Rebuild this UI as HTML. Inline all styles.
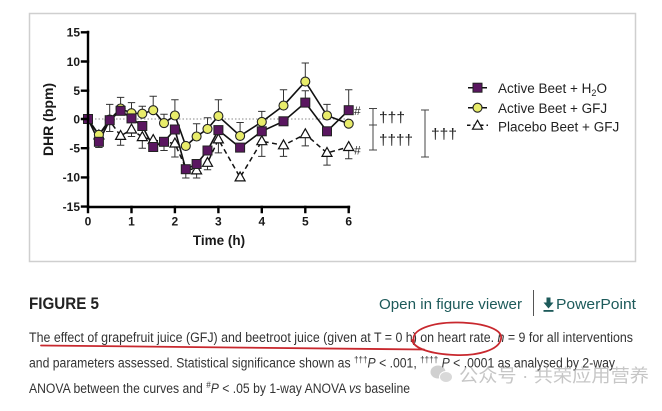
<!DOCTYPE html>
<html><head><meta charset="utf-8"><style>
html,body{margin:0;padding:0;background:#fff;}
body{width:662px;height:411px;overflow:hidden;}
svg{display:block;}
</style></head><body>
<svg width="662" height="411" viewBox="0 0 662 411" xmlns="http://www.w3.org/2000/svg">
<rect x="0" y="0" width="662" height="411" fill="#fff"/>
<rect x="29.5" y="13.5" width="606" height="248" fill="#fff" stroke="#cfcfcf" stroke-width="1.5"/>

<!-- zero dotted line -->
<line x1="88" y1="119" x2="349" y2="119" stroke="#888" stroke-width="1" stroke-dasharray="1.5 2"/>

<!-- error bars -->
<g stroke="#333" stroke-width="1" fill="none">
<path d="
M109.7 119.6V104.4M106 104.4h7.4
M120.6 108.5V97.4M116.9 97.4h7.4
M131.5 113.2V102.6M127.8 102.6h7.4
M142.3 113.7V106.2M138.6 106.2h7.4
M153.2 110.2V96.2M149.5 96.2h7.4
M164 123.1V114.3M160.3 114.3h7.4
M174.9 115.5V99.7M171.2 99.7h7.4
M196.6 136.5V123.7M192.9 123.7h7.4
M207.5 128.9V117.8M203.8 117.8h7.4
M218.4 116.1V99.7M214.7 99.7h7.4
M240.1 135.9V122.5M236.4 122.5h7.4
M261.8 121.9V111.4M258.1 111.4h7.4
M283.5 105.6V89.8M279.8 89.8h7.4
M305.3 81.6V63M301.6 63h7.4
M327 115.5V104.4M323.3 104.4h7.4
M348.7 110.2V89.8M345 89.8h7.4
M305.3 102.6V90.7M301.6 90.7h7.4
M98.9 141.8V147.5M95.2 147.5h7.4
M109.7 120.2V131.5M106 131.5h7.4
M153.2 147V151M149.5 151h7.4
M164 141.8V150.5M160.3 150.5h7.4
M185.8 169.2V178M182.1 178h7.4
M196.6 164V178M192.9 178h7.4
M120.6 135.9V145.3M116.9 145.3h7.4
M131.5 129.5V136.5M127.8 136.5h7.4
M142.3 137.1V148.2M138.6 148.2h7.4
M174.9 143.5V157M171.2 157h7.4
M207.5 162.8V169.8M203.8 169.8h7.4
M218.4 139.4V152.9M214.7 152.9h7.4
M261.8 141.2V156.4M258.1 156.4h7.4
M283.5 145.3V156.4M279.8 156.4h7.4
M305.3 134.2V145.9M301.6 145.9h7.4
M327 152.9V165.1M323.3 165.1h7.4
M348.7 147V158.7M345 158.7h7.4
"/>
</g>

<!-- series lines -->
<polyline fill="none" stroke="#111" stroke-width="1.5" stroke-dasharray="5 3.5" points="88,119 98.9,135.4 109.7,120.8 120.6,135.9 131.5,129.5 142.3,137.1 153.2,140 164,141.8 174.9,143.5 185.8,168.1 196.6,170.4 207.5,162.8 218.4,139.4 240.1,177.4 261.8,141.2 283.5,145.3 305.3,134.2 327,152.9 348.7,147"/>
<polyline fill="none" stroke="#111" stroke-width="1.6" points="88,119 98.9,141.8 109.7,120.2 120.6,110.8 131.5,118.4 142.3,126 153.2,147 164,141.8 174.9,129.5 185.8,169.2 196.6,164 207.5,150.5 218.4,130.1 240.1,147.6 261.8,131.3 283.5,121.3 305.3,102.6 327,131.3 348.7,110.2"/>
<polyline fill="none" stroke="#111" stroke-width="1.6" points="88,119 98.9,134.8 109.7,119.6 120.6,108.5 131.5,113.2 142.3,113.7 153.2,110.2 164,123.1 174.9,115.5 185.8,145.9 196.6,136.5 207.5,128.9 218.4,116.1 240.1,135.9 261.8,121.9 283.5,105.6 305.3,81.6 327,115.5 348.7,123.7"/>

<!-- triangle markers -->
<g fill="#fff" stroke="#111" stroke-width="1.2">
<path d="M98.9 130l5 8.9h-10z"/>
<path d="M120.6 130.5l5 8.9h-10z"/>
<path d="M131.5 124.1l5 8.9h-10z"/>
<path d="M142.3 131.7l5 8.9h-10z"/>
<path d="M153.2 134.6l5 8.9h-10z"/>
<path d="M174.9 138.1l5 8.9h-10z"/>
<path d="M196.6 165l5 8.9h-10z"/>
<path d="M207.5 157.4l5 8.9h-10z"/>
<path d="M218.4 134l5 8.9h-10z"/>
<path d="M240.1 172l5 8.9h-10z"/>
<path d="M261.8 135.8l5 8.9h-10z"/>
<path d="M283.5 139.9l5 8.9h-10z"/>
<path d="M305.3 128.8l5 8.9h-10z"/>
<path d="M327 147.5l5 8.9h-10z"/>
<path d="M348.7 141.6l5 8.9h-10z"/>
</g>

<!-- circle markers -->
<g fill="#e8ec6a" stroke="#222" stroke-width="1.1">
<circle cx="98.9" cy="134.8" r="4.5"/>
<circle cx="109.7" cy="119.6" r="4.5"/>
<circle cx="120.6" cy="108.5" r="4.5"/>
<circle cx="131.5" cy="113.2" r="4.5"/>
<circle cx="142.3" cy="113.7" r="4.5"/>
<circle cx="153.2" cy="110.2" r="4.5"/>
<circle cx="164" cy="123.1" r="4.5"/>
<circle cx="174.9" cy="115.5" r="4.5"/>
<circle cx="185.8" cy="145.9" r="4.5"/>
<circle cx="196.6" cy="136.5" r="4.5"/>
<circle cx="207.5" cy="128.9" r="4.5"/>
<circle cx="218.4" cy="116.1" r="4.5"/>
<circle cx="240.1" cy="135.9" r="4.5"/>
<circle cx="261.8" cy="121.9" r="4.5"/>
<circle cx="283.5" cy="105.6" r="4.5"/>
<circle cx="305.3" cy="81.6" r="4.5"/>
<circle cx="327" cy="115.5" r="4.5"/>
<circle cx="348.7" cy="123.7" r="4.5"/>
</g>

<!-- square markers -->
<g fill="#5a1660" stroke="#222" stroke-width="1">
<rect x="83.5" y="114.5" width="9" height="9"/>
<rect x="94.4" y="137.3" width="9" height="9"/>
<rect x="105.2" y="115.7" width="9" height="9"/>
<rect x="116.1" y="106.3" width="9" height="9"/>
<rect x="127" y="113.9" width="9" height="9"/>
<rect x="137.8" y="121.5" width="9" height="9"/>
<rect x="148.7" y="142.5" width="9" height="9"/>
<rect x="159.5" y="137.3" width="9" height="9"/>
<rect x="170.4" y="125" width="9" height="9"/>
<rect x="181.3" y="164.7" width="9" height="9"/>
<rect x="192.1" y="159.5" width="9" height="9"/>
<rect x="203" y="146" width="9" height="9"/>
<rect x="213.9" y="125.6" width="9" height="9"/>
<rect x="235.6" y="143.1" width="9" height="9"/>
<rect x="257.3" y="126.8" width="9" height="9"/>
<rect x="279" y="116.8" width="9" height="9"/>
<rect x="300.8" y="98.1" width="9" height="9"/>
<rect x="322.5" y="126.8" width="9" height="9"/>
<rect x="344.2" y="105.7" width="9" height="9"/>
</g>

<!-- axes -->
<g stroke="#000" stroke-width="2.4" fill="none" stroke-linecap="square">
<path d="M88 32V207H349"/>
<path d="M82 32.3H88M82 61.5H88M82 90.7H88M82 119H88M82 148.2H88M82 177.4H88M82 206.6H88"/>
<path d="M88 207v5M131.5 207v5M174.9 207v5M218.4 207v5M261.8 207v5M305.3 207v5M348.7 207v5"/>
</g>
<g font-family="Liberation Sans, Arial, sans-serif" font-weight="bold" font-size="12" fill="#1a1a1a" text-anchor="end">
<text x="80" y="36.6">15</text>
<text x="80" y="65.8">10</text>
<text x="80" y="95">5</text>
<text x="80" y="123.3">0</text>
<text x="80" y="152.5">-5</text>
<text x="80" y="181.7">-10</text>
<text x="80" y="210.9">-15</text>
</g>
<g font-family="Liberation Sans, Arial, sans-serif" font-weight="bold" font-size="12" fill="#1a1a1a" text-anchor="middle">
<text x="88" y="225.5">0</text>
<text x="131.5" y="225.5">1</text>
<text x="174.9" y="225.5">2</text>
<text x="218.4" y="225.5">3</text>
<text x="261.8" y="225.5">4</text>
<text x="305.3" y="225.5">5</text>
<text x="348.7" y="225.5">6</text>
</g>
<text x="219" y="245" font-family="Liberation Sans, Arial, sans-serif" font-weight="bold" font-size="13.5" fill="#1a1a1a" text-anchor="middle">Time (h)</text>
<text transform="translate(53,119.5) rotate(-90)" font-family="Liberation Sans, Arial, sans-serif" font-weight="bold" font-size="14" fill="#1a1a1a" text-anchor="middle">DHR (bpm)</text>

<!-- # markers -->
<g font-family="Liberation Sans, Arial, sans-serif" font-size="12" fill="#222">
<text x="354" y="115">#</text>
<text x="354" y="154.5">#</text>
</g>

<!-- significance brackets -->
<g stroke="#444" stroke-width="1" fill="none">
<path d="M369 108.5h8M373 108.5V125M369 125h8M373 125V150M369 150h8"/>
<path d="M421 110h8M425 110V157M421 157h8"/>
</g>
<g font-family="Liberation Sans, Arial, sans-serif" font-size="15" fill="#222">
<text x="379" y="122.5" textLength="26" lengthAdjust="spacingAndGlyphs">†††</text>
<text x="379" y="145" textLength="34" lengthAdjust="spacingAndGlyphs">††††</text>
<text x="431" y="139" textLength="26" lengthAdjust="spacingAndGlyphs">†††</text>
</g>

<!-- legend -->
<g stroke="#111" stroke-width="1.5">
<line x1="468" y1="87.7" x2="487" y2="87.7"/>
<line x1="468" y1="107.7" x2="487" y2="107.7"/>
<line x1="467" y1="125.3" x2="488" y2="125.3" stroke-dasharray="3.5 3"/>
</g>
<rect x="473" y="83.2" width="9" height="9" fill="#5a1660" stroke="#222" stroke-width="1"/>
<circle cx="477.5" cy="107.7" r="4.5" fill="#e8ec6a" stroke="#222" stroke-width="1.1"/>
<path d="M477.5 120.3l5 8.9h-10z" fill="#fff" stroke="#111" stroke-width="1.2"/>
<g font-family="Liberation Sans, Arial, sans-serif" font-size="13.5" fill="#222">
<text x="498" y="93">Active Beet + H<tspan font-size="9" dy="3">2</tspan><tspan dy="-3">O</tspan></text>
<text x="498" y="113">Active Beet + GFJ</text>
<text x="498" y="131.5">Placebo Beet + GFJ</text>
</g>

<!-- bottom section -->
<text x="29" y="309" font-family="Liberation Sans, Arial, sans-serif" font-weight="bold" font-size="16.5" fill="#222" textLength="70" lengthAdjust="spacingAndGlyphs">FIGURE 5</text>
<text x="379" y="309" font-family="Liberation Sans, Arial, sans-serif" font-size="15" fill="#1d5a5a" textLength="143" lengthAdjust="spacingAndGlyphs">Open in figure viewer</text>
<line x1="533.5" y1="290" x2="533.5" y2="316" stroke="#555" stroke-width="1"/>
<path d="M546.5 297.5h4v5h3l-5 6l-5 -6h3z" fill="#1d5a5a"/>
<rect x="543.5" y="310" width="10" height="1.8" fill="#1d5a5a"/>
<text x="556" y="309" font-family="Liberation Sans, Arial, sans-serif" font-size="15" fill="#1d5a5a" textLength="80" lengthAdjust="spacingAndGlyphs">PowerPoint</text>

<g font-family="Liberation Sans, Arial, sans-serif" font-size="13.5" fill="#333">
<text x="29" y="342" textLength="604" lengthAdjust="spacingAndGlyphs">The effect of grapefruit juice (GFJ) and beetroot juice (given at T = 0 h) on heart rate. <tspan font-style="italic">n</tspan> = 9 for all interventions</text>
<text x="29" y="367.5" textLength="586" lengthAdjust="spacingAndGlyphs">and parameters assessed. Statistical significance shown as <tspan font-size="9" dy="-5">†††</tspan><tspan font-style="italic" dy="5">P</tspan> &lt; .001, <tspan font-size="9" dy="-5">††††</tspan><tspan font-style="italic" dy="5"> P</tspan> &lt; .0001 as analysed by 2-way</text>
<text x="29" y="393" textLength="381" lengthAdjust="spacingAndGlyphs">ANOVA between the curves and <tspan font-size="9" dy="-5">#</tspan><tspan font-style="italic" dy="5">P</tspan> &lt; .05 by 1-way ANOVA <tspan font-style="italic">vs</tspan> baseline</text>
</g>

<!-- red annotations -->
<g stroke="#c8282e" stroke-width="1.8" fill="none" stroke-linecap="round">
<path d="M41 345.5Q230 347.5 424 349.5"/>
<path d="M414 341C410 330 432 322 458 322.5C486 323 503 330 501 339C499 350 478 356 455 355C432 354 414 349 412 340"/>
</g>

<!-- watermark -->
<g opacity="0.55">
<ellipse cx="438" cy="372" rx="7.5" ry="6.5" fill="#aaa"/>
<ellipse cx="446" cy="377" rx="6.5" ry="5.5" fill="#bbb" stroke="#fff" stroke-width="1"/>
<text x="459" y="382" font-family="Liberation Sans, 'Noto Sans CJK SC', sans-serif" font-size="18" fill="#999" textLength="190" lengthAdjust="spacingAndGlyphs">公众号 · 共荣应用营养</text>
</g>
</svg>
</body></html>
